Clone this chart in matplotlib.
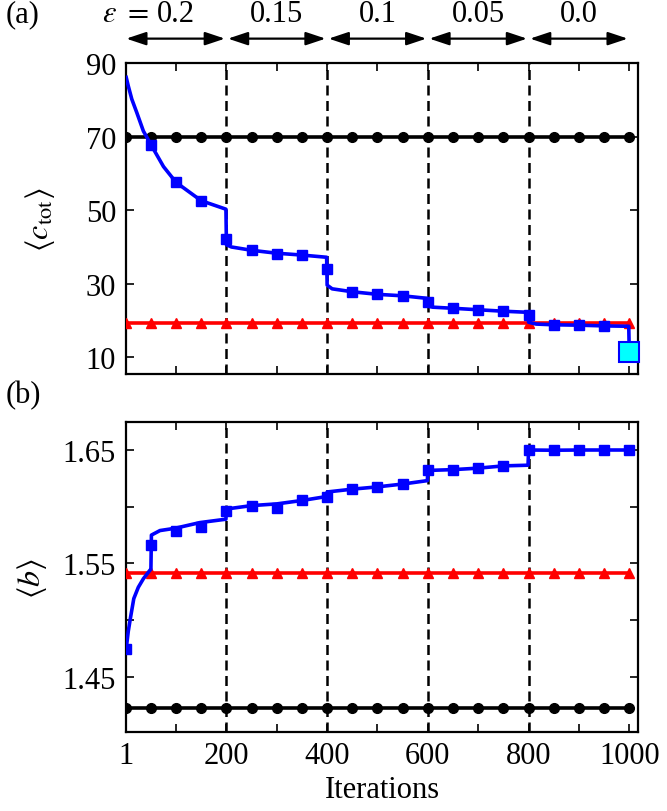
import matplotlib
matplotlib.use("Agg")
import matplotlib.pyplot as plt
from matplotlib.ticker import FixedLocator

plt.rcParams['font.family'] = ['Liberation Serif', 'DejaVu Serif']
plt.rcParams['mathtext.fontset'] = 'stix'

# x positions of the reference markers
mark_x = [1, 50, 100, 150, 200, 250, 300, 350, 400, 450, 500,
          550, 600, 650, 700, 750, 800, 850, 900, 950, 1000]

# (a) <c_tot>
c_black = 70.0
c_red = 19.2
c_curve_x = [1, 5, 12, 22, 35, 50, 75, 100, 150, 199, 200, 210, 250, 300, 350,
             399, 400, 410, 450, 500, 550, 599, 600, 610, 650, 700, 750, 799,
             800, 815, 850, 900, 950, 999, 1000]
c_curve_y = [86.2, 83.9, 80.3, 76.6, 71.6, 67.9, 61.9, 57.6, 52.6, 50.3, 40.6,
             40.0, 39.1, 38.3, 37.8, 37.2, 29.6, 28.6, 27.8, 27.1, 26.7, 26.0,
             23.9, 23.6, 23.3, 22.9, 22.5, 22.2, 19.5, 19.0, 18.8, 18.7, 18.5,
             18.4, 11.5]
c_sq_x = [50, 100, 150, 200, 250, 300, 350, 400, 450, 500, 550, 600,
          650, 700, 750, 800, 850, 900, 950]
c_sq_y = [67.7, 57.6, 52.6, 42.1, 39.1, 38.2, 37.8, 33.9, 27.8, 27.1, 26.7,
          25.1, 23.3, 22.9, 22.5, 21.4, 18.8, 18.7, 18.5]
c_final = 11.5

# (b) <b>
b_black = 1.423
b_red = 1.542
b_curve_x = [1, 5, 9, 16, 25, 35, 48, 50, 51, 68, 98, 147, 199, 200, 250, 300,
             350, 399, 400, 450, 500, 550, 599, 600, 650, 700, 750, 799, 800,
             850, 900, 950, 1000]
b_curve_y = [1.475, 1.490, 1.501, 1.519, 1.529, 1.5365, 1.544, 1.545, 1.575,
             1.579, 1.581, 1.586, 1.589, 1.598, 1.601, 1.6025, 1.6055, 1.609,
             1.613, 1.6155, 1.6175, 1.620, 1.623, 1.632, 1.6327, 1.634, 1.636,
             1.6366, 1.650, 1.6498, 1.650, 1.650, 1.650]
b_sq_y = [1.475, 1.566, 1.579, 1.582, 1.5966, 1.601, 1.599, 1.6055, 1.609,
          1.6155, 1.6175, 1.620, 1.6326, 1.6326, 1.634, 1.636, 1.650, 1.6497,
          1.650, 1.650, 1.650]

eps_edges = [1, 200, 400, 600, 800, 1000]
eps_labels = ['0.2', '0.15', '0.1', '0.05', '0.0']

fs = 22
fig = plt.figure(figsize=(6.67, 8.12), dpi=100)
ax1 = fig.add_axes([0.1885, 0.5382, 0.7685, 0.3824])
ax2 = fig.add_axes([0.1885, 0.0967, 0.7685, 0.3828])

lw = 2.6
for ax in (ax1, ax2):
    for xv in [200, 400, 600, 800]:
        ax.axvline(xv, color='black', lw=1.8, ls=(0, (4, 2.2)), zorder=1)
    ax.set_xlim(0, 1018)
    ax.xaxis.set_major_locator(FixedLocator([1, 200, 400, 600, 800, 1000]))
    ax.xaxis.set_minor_locator(FixedLocator([100, 300, 500, 700, 900]))
    ax.tick_params(which='both', direction='in', top=True, right=True,
                   length=6, width=1.2, labelsize=fs)
    ax.tick_params(axis='x', pad=6)
    ax.tick_params(axis='y', pad=7)
    for s in ax.spines.values():
        s.set_linewidth(1.6)

# panel (a)
ax1.plot(mark_x, [c_black] * len(mark_x), color='black', lw=lw, marker='o',
         ms=7, zorder=3)
ax1.plot(mark_x, [c_red] * len(mark_x), color='#ff0000', lw=lw, marker='^',
         ms=7.5, zorder=3)
ax1.plot(c_curve_x, c_curve_y, color='#0000ff', lw=lw, zorder=4)
ax1.plot(c_sq_x, c_sq_y, ls='none', marker='s', ms=7.5, color='#0000ff', zorder=5)
ax1.plot([1000], [c_final], ls='none', marker='s', ms=14, mfc='#00ffff',
         mec='#0000ff', mew=1.5, zorder=6, clip_on=False)
ax1.set_ylim(5.4, 90)
ax1.set_yticks([10, 30, 50, 70, 90])
ax1.tick_params(axis='x', labelbottom=False)
ax1.set_ylabel(r'$\langle c_{\rm tot}\rangle$', fontsize=fs + 1)
ax1.yaxis.set_label_coords(-0.135, 0.5)

# epsilon arrows and labels
for i in range(len(eps_labels)):
    x0 = eps_edges[i] + (3 if i > 0 else 0)
    x1 = eps_edges[i + 1] - 3
    ax1.annotate('', xy=(x1, 1.08), xytext=(x0, 1.08),
                 xycoords=('data', 'axes fraction'),
                 textcoords=('data', 'axes fraction'),
                 arrowprops=dict(arrowstyle='<|-|>,head_length=0.6,head_width=0.2',
                                 mutation_scale=20, lw=1.6, color='black',
                                 shrinkA=0, shrinkB=0),
                 annotation_clip=False)
    xc = (eps_edges[i] + eps_edges[i + 1]) / 2
    ax1.text(xc, 1.16, eps_labels[i], transform=ax1.get_xaxis_transform(),
             ha='center', va='center', fontsize=fs)
ax1.text(46, 1.16, r'$\varepsilon\ =$', transform=ax1.get_xaxis_transform(),
         ha='right', va='center', fontsize=fs)

# panel (b)
ax2.plot(mark_x, [b_black] * len(mark_x), color='black', lw=lw, marker='o',
         ms=7, zorder=3)
ax2.plot(mark_x, [b_red] * len(mark_x), color='#ff0000', lw=lw, marker='^',
         ms=7.5, zorder=3)
ax2.plot(b_curve_x, b_curve_y, color='#0000ff', lw=lw, zorder=4)
ax2.plot(mark_x, b_sq_y, ls='none', marker='s', ms=7.5, color='#0000ff', zorder=5)
ax2.set_ylim(1.401, 1.675)
ax2.yaxis.set_major_locator(FixedLocator([1.45, 1.55, 1.65]))
ax2.yaxis.set_minor_locator(FixedLocator([1.50, 1.60]))
ax2.set_yticklabels(['1.45', '1.55', '1.65'])
ax2.set_ylabel(r'$\langle b\rangle$', fontsize=fs + 1)
ax2.yaxis.set_label_coords(-0.15, 0.5)
ax2.set_xlabel('Iterations', fontsize=fs, labelpad=4)

fig.text(0.008, 0.982, '(a)', fontsize=fs, ha='left', va='center')
fig.text(0.008, 0.513, '(b)', fontsize=fs, ha='left', va='center')

fig.savefig('out.png', dpi=100)
